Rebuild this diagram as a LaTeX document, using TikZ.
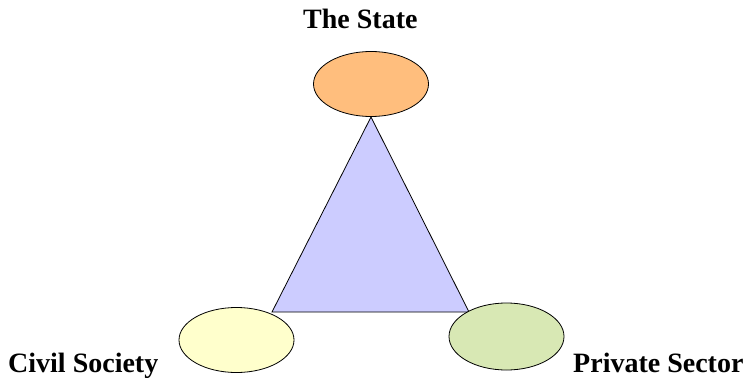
\documentclass[tikz,border=0pt]{standalone}
\usepackage{fontspec}
\setmainfont{Liberation Serif}
\usepackage{xcolor}
\definecolor{StateOrange}{RGB}{255,190,125}
\definecolor{CivilYellow}{RGB}{255,255,204}
\definecolor{MarketGreen}{RGB}{216,232,180}
\definecolor{TriBlue}{RGB}{204,204,255}
\usetikzlibrary{shapes.geometric, positioning}

\begin{document}
\begin{tikzpicture}[
    x=1pt, y=-1pt,
    font=\fontsize{28}{32}\selectfont\bfseries,
    actor_oval/.style={ellipse, draw=black, line width=0.8pt, minimum width=115pt, minimum height=65pt, inner sep=0pt},
    actor_label/.style={anchor=base west, inner sep=0pt},
    power_tri/.style={draw=black, fill=TriBlue, line width=0.8pt, line join=miter}
]
    \useasboundingbox (0,0) rectangle (751,377);

    % 1. CORNERS OF THE TRIANGLE
    \coordinate (apex) at (371,117);
    \coordinate (leftc) at (272,312);
    \coordinate (rightc) at (469,312);

    % 2. THE TRIANGLE
    \draw[power_tri] (apex) -- (leftc) -- (rightc) -- cycle;

    % 3. THE THREE ACTORS
    \node[actor_oval, fill=StateOrange] (state) at (371,84) {};
    \node[actor_oval, fill=CivilYellow] (civil) at (236.5,340) {};
    \node[actor_oval, fill=MarketGreen, minimum height=67pt] (private) at (506.5,336.5) {};

    % 4. LABELS
    \node[actor_label] (statelbl) at (303,29) {The State};
    \node[actor_label] (civillbl) at (8,372) {Civil Society};
    \node[actor_label] (privatelbl) at (573,372) {Private Sector};

\end{tikzpicture}
\end{document}
